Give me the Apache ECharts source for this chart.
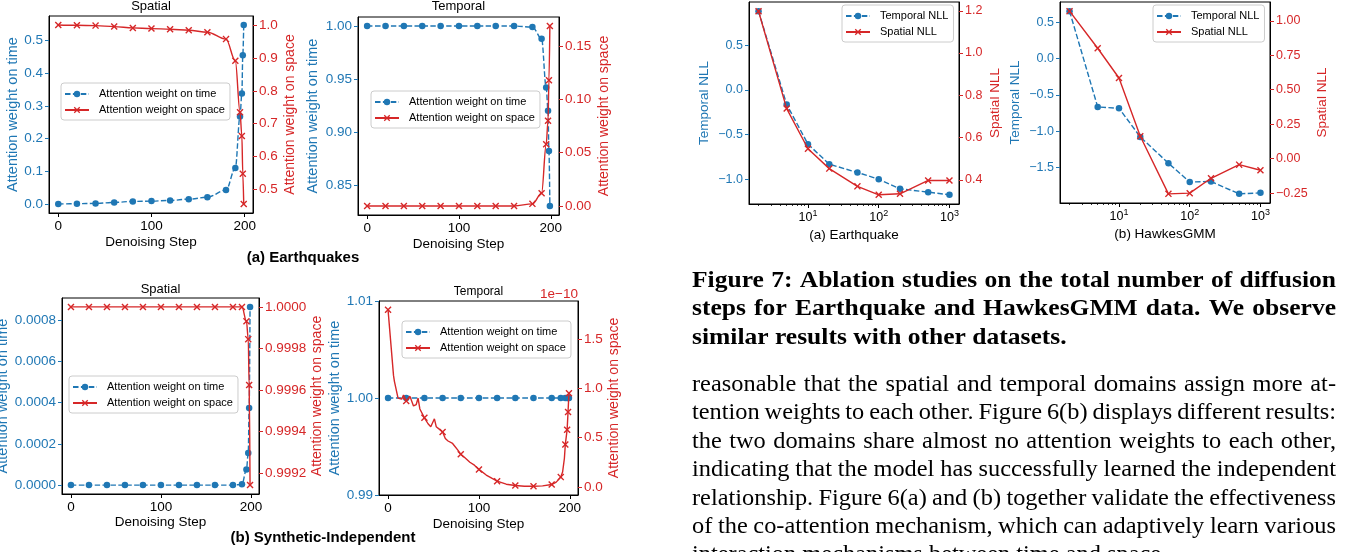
<!DOCTYPE html>
<html>
<head>
<meta charset="utf-8">
<script src="https://cdn.jsdelivr.net/npm/echarts@6/dist/echarts.min.js"></script>
<style>
html,body{margin:0;padding:0;background:#fff;}
#chart{width:1353px;height:552px;}
</style>
</head>
<body>
<div id="chart"></div>
<script>
// ================= DATA =================
const markSteps = [0,20,40,60,80,100,120,140,160,180,190,195,197,198,199];
const stepTicks = [0,100,200];

// (a) Earthquakes - Spatial
const eqSpatialTime  = [0.000,0.001,0.002,0.005,0.008,0.009,0.011,0.015,0.021,0.043,0.110,0.268,0.338,0.455,0.548];
const eqSpatialSpace = [1.000,0.999,0.998,0.995,0.991,0.989,0.987,0.984,0.978,0.957,0.891,0.735,0.663,0.548,0.456];
const eqSpatialTimeTicks  = [0.0,0.1,0.2,0.3,0.4,0.5];
const eqSpatialSpaceTicks = [0.5,0.6,0.7,0.8,0.9,1.0];

// (a) Earthquakes - Temporal
const eqTemporalTime  = [1,1,1,1,1,1,1,1,1,0.999,0.988,0.942,0.920,0.882,0.830];
const eqTemporalSpace = [0,0,0,0,0,0,0,0,0,0.002,0.012,0.058,0.080,0.118,0.169];
const eqTemporalTimeTicks  = [0.85,0.90,0.95,1.00];
const eqTemporalSpaceTicks = [0.00,0.05,0.10,0.15];

// (b) Synthetic-Independent - Spatial
const synSpatialTime  = [0,0,0,0,0,0,0,0,0,0,0.0000035,0.0000755,0.000156,0.000374,0.000865];
const synSpatialSpace = [1,1,1,1,1,1,1,1,1,1,1,0.999931,0.999845,0.999624,0.999143];
const synSpatialTimeTicks  = [0,0.0002,0.0004,0.0006,0.0008];
const synSpatialSpaceTicks = [0.9992,0.9994,0.9996,0.9998,1.0];

// (b) Synthetic-Independent - Temporal
const synTemporalTime = [1,1,1,1,1,1,1,1,1,1,1,1,1,1,1];
const synTemporalSpaceSteps = [0,6,7,8,9,11,13,15,17,20,22,24,26,28,31,33,35,40,44,47,51,53,57,60,63,66,71,77,80,84,90,95,100,108,114,120,130,140,150,160,170,180,185,190,192,194,195,197,198,199];
const synTemporalSpace = [1.795,1.13,1.07,1.09,1.07,0.90,0.90,0.89,0.93,0.87,0.87,0.92,0.91,0.82,0.835,0.90,0.79,0.70,0.64,0.61,0.69,0.61,0.58,0.557,0.49,0.465,0.44,0.37,0.33,0.30,0.25,0.22,0.177,0.12,0.088,0.058,0.027,0.014,0.007,0.007,0.010,0.024,0.048,0.099,0.15,0.29,0.43,0.58,0.76,0.95]; // x 1e-10
const synTemporalTimeTicks  = [0.99,1.00,1.01];
const synTemporalSpaceTicks = [0.0,0.5,1.0,1.5];

// Figure 7: NLL vs total diffusion steps
const nllSteps = [2,5,10,20,50,100,200,500,1000];
const nllStepTicks = [10,100,1000];
const nllMinorTicks = [2,3,4,5,6,7,8,9,20,30,40,50,60,70,80,90,200,300,400,500,600,700,800,900];
const eqTemporalNLL = [0.881,-0.164,-0.608,-0.832,-0.925,-1.000,-1.108,-1.145,-1.175];
const eqSpatialNLL  = [1.198,0.737,0.547,0.453,0.369,0.329,0.334,0.397,0.397];
const hawkesTemporalNLL = [0.651,-0.667,-0.685,-1.079,-1.441,-1.698,-1.692,-1.862,-1.848];
const hawkesSpatialNLL  = [1.070,0.801,0.585,0.163,-0.255,-0.250,-0.142,-0.043,-0.084];
const eqTemporalNLLTicks = [-1.0,-0.5,0.0,0.5];
const eqSpatialNLLTicks  = [0.4,0.6,0.8,1.0,1.2];
const hawkesTemporalNLLTicks = [-1.5,-1.0,-0.5,0.0,0.5];
const hawkesSpatialNLLTicks  = [-0.25,0.00,0.25,0.50,0.75,1.00];

// text
const captionLines = [
  'Figure 7: Ablation studies on the total number of diffusion',
  'steps for Earthquake and HawkesGMM data. We observe',
  'similar results with other datasets.'
];
const bodyLines = [
  'reasonable that the spatial and temporal domains assign more at-',
  'tention weights to each other. Figure 6(b) displays different results:',
  'the two domains share almost no attention weights to each other,',
  'indicating that the model has successfully learned the independent',
  'relationship. Figure 6(a) and (b) together validate the effectiveness',
  'of the co-attention mechanism, which can adaptively learn various',
  'interaction mechanisms between time and space.'
];

// ================= STYLE / LAYOUT =================
const BLUE = '#1f77b4', RED = '#d62728';
const SANS = '"Liberation Sans", Arial, sans-serif';
const SERIF = '"Liberation Serif", "Times New Roman", serif';
const XSYM = 'path://M0,1.4L1.4,0L5,3.6L8.6,0L10,1.4L6.4,5L10,8.6L8.6,10L5,6.4L1.4,10L0,8.6L3.6,5Z';

function pad(vals){
  const lo = Math.min(...vals), hi = Math.max(...vals);
  if (hi === lo) return [lo - Math.abs(lo)*0.01, hi + Math.abs(hi)*0.01];
  const s = (hi - lo) * 0.05;
  return [lo - s, hi + s];
}
function padLog(vals){
  const r = pad(vals.map(Math.log10));
  return [Math.pow(10, r[0]), Math.pow(10, r[1])];
}
function fmtNum(v, d){ return v.toFixed(d).replace('-', '\u2212'); }
function pairs(xs, ys){ return xs.map((x,i)=>[x, ys[i]]); }

const grids = [
  {left:49,  top:16,  width:204, height:197},
  {left:358, top:17,  width:201, height:198},
  {left:62,  top:298, width:197, height:196},
  {left:379, top:301, width:199, height:194},
  {left:749, top:2,   width:210, height:202},
  {left:1060,top:2,   width:210, height:201}
];

const option = {
  animation:false,
  backgroundColor:'#ffffff',
  grid: grids.map(g => Object.assign({show:true, borderColor:'#000', borderWidth:1, backgroundColor:'transparent', containLabel:false, outerBoundsMode:'none'}, g)),
  xAxis:[], yAxis:[], series:[], legend:[], title:[], graphic:[]
};

function xAttn(gi, steps, nameGap){
  const r = pad(steps);
  return {type:'value', gridIndex:gi, position:'bottom', min:r[0], max:r[1],
    axisLine:{show:true, onZero:false, lineStyle:{color:'#000', width:1}},
    axisTick:{show:true, length:4, customValues:stepTicks, lineStyle:{color:'#000'}},
    axisLabel:{customValues:stepTicks, color:'#000', fontSize:13.5, fontFamily:SANS, margin:6},
    splitLine:{show:false},
    name:'Denoising Step', nameLocation:'middle', nameGap:nameGap,
    nameTextStyle:{color:'#000', fontSize:13.5, fontFamily:SANS}};
}
function yAx(gi, pos, range, ticks, dec, color, name, gap, fs, nfs){
  return {type:'value', gridIndex:gi, position:pos, min:range[0], max:range[1],
    axisLine:{show:true, onZero:false, lineStyle:{color:'#000', width:1}},
    axisTick:{show:true, length:4, customValues:ticks, lineStyle:{color:color, width:1}},
    axisLabel:{customValues:ticks, formatter:(v)=>fmtNum(v,dec), color:color, fontSize:fs, fontFamily:SANS, margin:6},
    splitLine:{show:false},
    name:name, nameLocation:'middle', nameRotate:90, nameGap:gap,
    nameTextStyle:{color:color, fontSize:nfs, fontFamily:SANS}};
}
function timeSeries(name, xi, yi, xs, ys, smooth){
  return {type:'line', name:name, xAxisIndex:xi, yAxisIndex:yi, data:pairs(xs, ys),
    smooth:smooth, smoothMonotone:'x', symbol:'circle', symbolSize:6.5, showAllSymbol:true,
    lineStyle:{color:BLUE, width:1.4, type:[5.5,2.4]}, itemStyle:{color:BLUE}, z:2};
}
function spaceSeries(name, xi, yi, xs, ys, smooth, marked){
  const data = xs.map((x,i) => {
    const it = {value:[x, ys[i]]};
    if (marked && marked.indexOf(x) < 0) it.symbol = 'none';
    return it;
  });
  return {type:'line', name:name, xAxisIndex:xi, yAxisIndex:yi, data:data,
    smooth:smooth, smoothMonotone:'x', symbol:XSYM, symbolSize:7, showAllSymbol:true,
    lineStyle:{color:RED, width:1.4}, itemStyle:{color:RED}, z:3};
}
function legendCfg(names, left, top){
  return {data:names, left:left, top:top, orient:'vertical', align:'left',
    itemWidth:24, itemHeight:8, itemGap:2, padding:[4,5,3,3],
    backgroundColor:'rgba(255,255,255,0.8)', borderColor:'#cccccc', borderWidth:1, borderRadius:3,
    textStyle:{fontSize:11, fontFamily:SANS, color:'#000', padding:[0,0,0,5], lineHeight:14},
    selectedMode:false};
}
function titleCfg(text, cx, top, fs){
  return {text:text, left:cx, top:top, textAlign:'center', padding:0,
    textStyle:{fontSize:fs, fontWeight:'normal', color:'#000', fontFamily:SANS}};
}

const TN = 'Attention weight on time', SN = 'Attention weight on space';
const attn = [
  {title:'Spatial', tTop:0, tfs:13, time:eqSpatialTime, space:eqSpatialSpace, steps:markSteps, spaceSteps:markSteps,
   tt:eqSpatialTimeTicks, st:eqSpatialSpaceTicks, td:1, sd:1, lg:[61,83], gapL:29, gapR:30, xGap:22},
  {title:'Temporal', tTop:0, tfs:13, time:eqTemporalTime, space:eqTemporalSpace, steps:markSteps, spaceSteps:markSteps,
   tt:eqTemporalTimeTicks, st:eqTemporalSpaceTicks, td:2, sd:2, lg:[371,91], gapL:38, gapR:38, xGap:22},
  {title:'Spatial', tTop:283, tfs:13, time:synSpatialTime, space:synSpatialSpace, steps:markSteps, spaceSteps:markSteps,
   tt:synSpatialTimeTicks, st:synSpatialSpaceTicks, td:4, sd:4, lg:[69,376], gapL:51, gapR:51, xGap:21},
  {title:'Temporal', tTop:286, tfs:12, time:synTemporalTime, space:synTemporalSpace, steps:markSteps, spaceSteps:synTemporalSpaceSteps,
   tt:synTemporalTimeTicks, st:synTemporalSpaceTicks, td:2, sd:1, lg:[402,321], gapL:36, gapR:28, xGap:22, dense:true}
];
attn.forEach((p, i) => {
  const g = grids[i];
  option.xAxis.push(xAttn(i, p.steps, p.xGap));
  option.yAxis.push(yAx(i, 'left', pad(p.time), p.tt, p.td, BLUE, TN, p.gapL, 13.5, 14.5));
  option.yAxis.push(yAx(i, 'right', pad(p.space), p.st, p.sd, RED, SN, p.gapR, 13.5, 14));
  option.series.push(timeSeries(TN, i, 2*i, p.steps, p.time, p.dense ? 0.3 : 0.35));
  option.series.push(spaceSeries(SN, i, 2*i+1, p.spaceSteps, p.space, p.dense ? false : 0.35, p.dense ? markSteps : null));
  option.legend.push(legendCfg([TN, SN], p.lg[0], p.lg[1]));
  option.title.push(titleCfg(p.title, g.left + g.width/2, p.tTop, p.tfs));
});

// NLL plots
const nll = [
  {xname:'(a) Earthquake', t:eqTemporalNLL, s:eqSpatialNLL, tt:eqTemporalNLLTicks, st:eqSpatialNLLTicks, td:1, sd:1, lg:[842,5], gapL:38, gapR:29},
  {xname:'(b) HawkesGMM', t:hawkesTemporalNLL, s:hawkesSpatialNLL, tt:hawkesTemporalNLLTicks, st:hawkesSpatialNLLTicks, td:1, sd:2, lg:[1153,5], gapL:38, gapR:45}
];
const minorAxes = [];
nll.forEach((p, k) => {
  const gi = 4 + k;
  const r = padLog(nllSteps);
  option.xAxis.push({type:'log', logBase:10, gridIndex:gi, position:'bottom', min:r[0], max:r[1],
    axisLine:{show:true, onZero:false, lineStyle:{color:'#000', width:1}},
    axisTick:{show:true, length:4, customValues:nllStepTicks, lineStyle:{color:'#000'}},
    axisLabel:{customValues:nllStepTicks, margin:5, color:'#000', fontFamily:SANS,
      formatter:(v)=>'{b|10}{s|' + Math.round(Math.log10(v)) + '}',
      rich:{b:{fontSize:12.5, fontFamily:SANS, color:'#000'}, s:{fontSize:9, fontFamily:SANS, color:'#000', padding:[0,0,8,0]}}},
    splitLine:{show:false}, minorTick:{show:false},
    name:p.xname, nameLocation:'middle', nameGap:24,
    nameTextStyle:{color:'#000', fontSize:13.5, fontFamily:SANS}});
  minorAxes.push({type:'log', logBase:10, gridIndex:gi, position:'bottom', min:r[0], max:r[1],
    axisLine:{show:false, onZero:false},
    axisTick:{show:true, length:2, customValues:nllMinorTicks, lineStyle:{color:'#000', width:0.8}},
    axisLabel:{show:false}, splitLine:{show:false}, minorTick:{show:false}});
  option.yAxis.push(yAx(gi, 'left', pad(p.t), p.tt, p.td, BLUE, 'Temporal NLL', p.gapL, 12.5, 13.5));
  option.yAxis.push(yAx(gi, 'right', pad(p.s), p.st, p.sd, RED, 'Spatial NLL', p.gapR, 12.5, 13.5));
  option.series.push(timeSeries('Temporal NLL', gi, 8 + 2*k, nllSteps, p.t, false));
  option.series.push(spaceSeries('Spatial NLL', gi, 9 + 2*k, nllSteps, p.s, false, null));
  option.legend.push(legendCfg(['Temporal NLL','Spatial NLL'], p.lg[0], p.lg[1]));
});
minorAxes.forEach(a => option.xAxis.push(a));

// annotations
function txt(text, x, y, opts){
  return {type:'text', x:x, y:y, silent:true,
    style:Object.assign({text:text, fill:'#000', fontFamily:SANS, fontSize:13, align:'center', verticalAlign:'middle'}, opts||{})};
}
option.graphic.push(txt('(a) Earthquakes', 303, 258, {fontWeight:'bold', fontSize:15}));
option.graphic.push(txt('(b) Synthetic-Independent', 323, 538, {fontWeight:'bold', fontSize:15}));
option.graphic.push(txt('1e\u221210', 578, 294, {fill:RED, fontSize:13.5, align:'right'}));

// justified serif text (Libertine-like width emulated with a small horizontal stretch)
const mctx = document.createElement('canvas').getContext('2d');
function textLine(line, x0, width, y, size, weight, justify, sx){
  mctx.font = weight + ' ' + size + 'px ' + SERIF;
  const ws = line.split(' ');
  const wd = ws.map(w => mctx.measureText(w).width * sx);
  const total = wd.reduce((a,b)=>a+b, 0);
  const space = mctx.measureText(' ').width * sx;
  let gap = (justify && ws.length > 1) ? (width - total)/(ws.length - 1) : space;
  gap = Math.max(gap, 0.6*space);
  let x = x0;
  ws.forEach((w, i) => {
    option.graphic.push({type:'text', x:x, y:y, scaleX:sx, scaleY:1, silent:true,
      style:{text:w, fill:'#000', fontFamily:SERIF, fontSize:size, fontWeight:weight, align:'left', verticalAlign:'middle'}});
    x += wd[i] + gap;
  });
}
const TX0 = 692, TW = 644;
captionLines.forEach((l, i) => textLine(l, TX0, TW, 281 + i*28.5, 23, 'bold', i < captionLines.length - 1, 1.11));
bodyLines.forEach((l, i) => textLine(l, TX0, TW, 385 + i*28.4, 23, 'normal', i < bodyLines.length - 1, 1.06));

const chart = echarts.init(document.getElementById('chart'), null, {renderer:'canvas'});
chart.setOption(option);
</script>
</body>
</html>
